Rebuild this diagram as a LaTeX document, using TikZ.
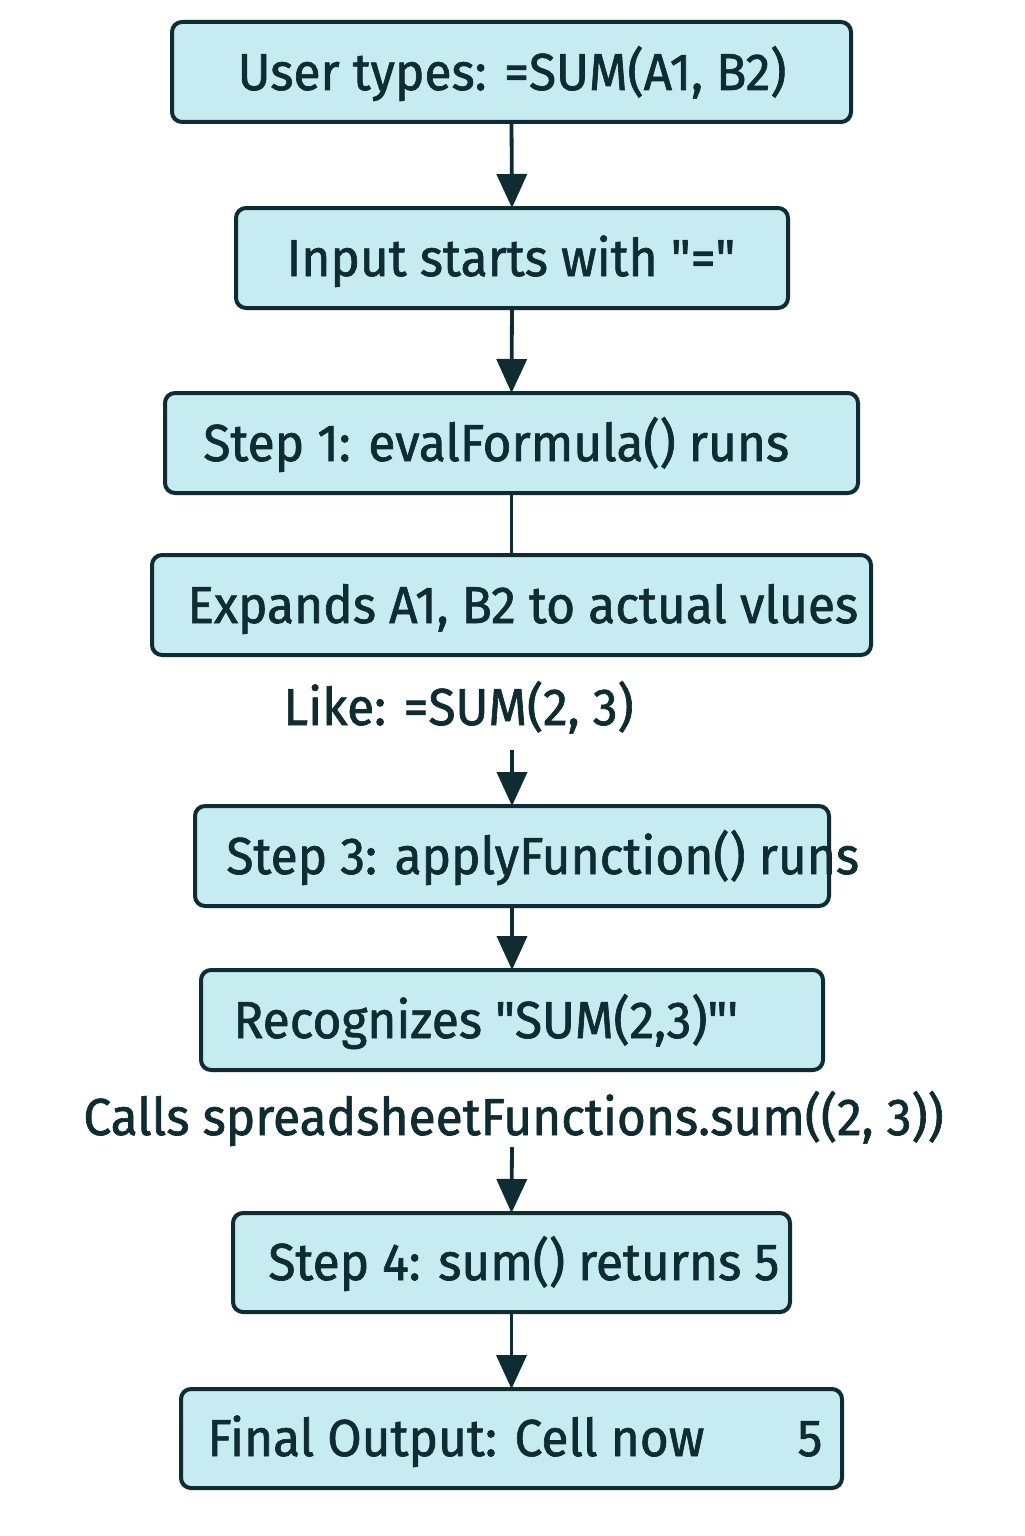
\documentclass[tikz,border=0pt]{standalone}
\usepackage{fontspec}
\setmainfont{Fira Sans}[FakeStretch=0.955, FakeBold=1.3, Ligatures=TeXOff]
\usetikzlibrary{arrows.meta}
\definecolor{boxfill}{HTML}{C6EBF0}
\definecolor{ink}{HTML}{0E2C31}
\begin{document}
\begin{tikzpicture}[x=0.5pt,y=-0.5pt,
  box/.style={draw=ink, fill=boxfill, line width=2pt, rounded corners=5pt, inner sep=0pt, outer sep=0pt, minimum height=50pt},
  txt/.style={anchor=base west, inner sep=0pt, text=ink, font=\fontsize{26}{30}\selectfont},
  link/.style={draw=ink, line width=1.9pt},
  arr/.style={link, -{Triangle[length=17pt,width=15pt]}}]
\fill[white] (0,0) rectangle (1024,1536);
\useasboundingbox (0,0) rectangle (1024,1536);
% boxes
\node[box, minimum width=339.5pt] (b1) at (511.5,72) {};
\node[box, minimum width=276pt] (b2) at (512,258) {};
\node[box, minimum width=346.5pt] (b3) at (511.5,443) {};
\node[box, minimum width=359.5pt] (b4) at (511.5,605) {};
\node[box, minimum width=317pt] (b6) at (512,856) {};
\node[box, minimum width=311pt] (b7) at (512,1020) {};
\node[box, minimum width=278.5pt, minimum height=49.5pt] (b9) at (511.5,1262.5) {};
\node[box, minimum width=330.5pt, minimum height=49.5pt] (b10) at (511.5,1438.5) {};
% texts
\node[txt, anchor=base] (t1) at (512,90) {User types: =SUM(A1, B2)};
\node[txt, anchor=base] (t2) at (511,276) {Input starts with "="};
\node[txt] (t3) at (203,461) {Step 1: evalFormula() runs};
\node[txt] (t4) at (187,623) {Expands A1, B2 to actual vlues};
\node[txt] (t5) at (283,725) {Like: =SUM(2, 3)};
\node[txt] (t6) at (226,874) {Step 3: applyFunction() runs};
\node[txt] (t7) at (233,1038) {Recognizes "SUM(2,3)"'};
\node[txt] (t8) at (83,1135) {Calls spreadsheetFunctions.sum((2, 3))};
\node[txt] (t9) at (268,1280) {Step 4: sum() returns 5};
\node[txt] (t10) at (207,1456) {\makebox[307.5pt][l]{Final Output: Cell now\hfill 5}};
% connectors
\coordinate (s5) at (512,750);
\coordinate (s8) at (512,1147);
\draw[arr] (b1.south) -- (b2.north);
\draw[arr] (b2.south) -- (b3.north);
\draw[link] (b3.south) -- (b4.north);
\draw[arr] (s5) -- (b6.north);
\draw[arr] (b6.south) -- (b7.north);
\draw[arr] (s8) -- (b9.north);
\draw[arr] (b9.south) -- (b10.north);
\end{tikzpicture}
\end{document}
